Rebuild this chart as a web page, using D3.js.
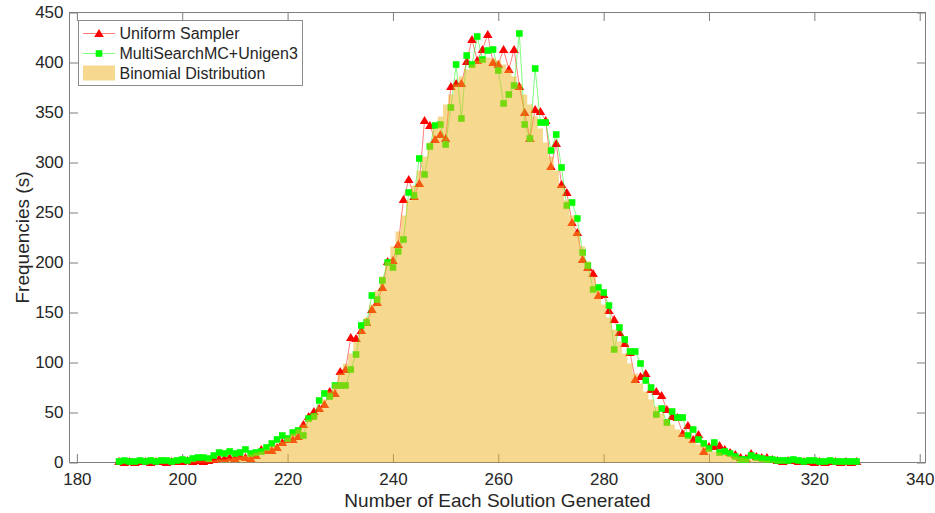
<!DOCTYPE html>
<html>
<head>
<meta charset="utf-8">
<script src="https://cdn.jsdelivr.net/npm/d3@7"></script>
<style>
body { margin: 0; background: #fff; }
text { font-family: "Liberation Sans", Arial, Helvetica, sans-serif; fill: #262626; }
</style>
</head>
<body>
<script>
// number of times each solution was generated (x) and how often that count occurred
var solutions = [188, 189, 190, 191, 192, 193, 194, 195, 196, 197,
                 198, 199, 200, 201, 202, 203, 204, 205, 206, 207,
                 208, 209, 210, 211, 212, 213, 214, 215, 216, 217,
                 218, 219, 220, 221, 222, 223, 224, 225, 226, 227,
                 228, 229, 230, 231, 232, 233, 234, 235, 236, 237,
                 238, 239, 240, 241, 242, 243, 244, 245, 246, 247,
                 248, 249, 250, 251, 252, 253, 254, 255, 256, 257,
                 258, 259, 260, 261, 262, 263, 264, 265, 266, 267,
                 268, 269, 270, 271, 272, 273, 274, 275, 276, 277,
                 278, 279, 280, 281, 282, 283, 284, 285, 286, 287,
                 288, 289, 290, 291, 292, 293, 294, 295, 296, 297,
                 298, 299, 300, 301, 302, 303, 304, 305, 306, 307,
                 308, 309, 310, 311, 312, 313, 314, 315, 316, 317,
                 318, 319, 320, 321, 322, 323, 324, 325, 326, 327,
                 328];

var uniform = [1, 0, 1, 0, 1, 1, 0, 1, 1, 0,
               1, 1, 1, 2, 1, 2, 1, 2, 3, 4,
               4, 5, 4, 6, 5, 4, 7, 13, 12, 12,
               15, 20, 23, 23, 26, 38, 46, 51, 54, 58,
               71, 69, 91, 93, 125, 124, 132, 140, 153, 160,
               175, 201, 202, 218, 263, 283, 266, 279, 342, 337,
               323, 328, 324, 376, 379, 379, 401, 423, 402, 413,
               428, 400, 398, 413, 393, 413, 376, 350, 324, 353,
               351, 342, 296, 319, 278, 270, 240, 230, 203, 195,
               189, 167, 168, 152, 143, 130, 119, 110, 83, 86,
               89, 73, 71, 67, 53, 46, 45, 29, 37, 23,
               28, 11, 16, 16, 17, 13, 10, 8, 5, 4,
               9, 6, 5, 5, 3, 2, 1, 2, 2, 1,
               1, 1, 0, 1, 0, 1, 1, 0, 1, 0,
               1];

var multiSearch = [1, 2, 1, 1, 2, 1, 2, 1, 2, 2,
                   1, 2, 3, 2, 4, 5, 5, 4, 7, 10,
                   9, 11, 9, 10, 13, 9, 10, 11, 15, 19,
                   23, 27, 24, 30, 32, 27, 44, 46, 62, 69,
                   66, 77, 77, 77, 93, 108, 137, 140, 167, 163,
                   182, 200, 195, 211, 223, 270, 267, 304, 288, 316,
                   337, 338, 318, 355, 398, 344, 407, 398, 426, 403,
                   412, 413, 392, 359, 368, 377, 429, 338, 324, 394,
                   340, 340, 312, 328, 295, 257, 260, 244, 210, 197,
                   173, 175, 170, 157, 113, 135, 123, 111, 111, 99,
                   82, 75, 48, 54, 40, 51, 45, 45, 27, 33,
                   23, 19, 14, 20, 10, 11, 9, 6, 3, 3,
                   7, 5, 4, 3, 3, 2, 2, 2, 3, 2,
                   1, 2, 2, 1, 1, 2, 1, 1, 1, 1,
                   1];

var binomial = [0, 0, 0, 0, 0, 0, 0, 0, 0, 0,
                0, 0, 0, 0, 1, 1, 1, 2, 2, 3,
                3, 4, 5, 6, 7, 8, 10, 11, 13, 16,
                18, 21, 25, 29, 33, 38, 43, 49, 56, 63,
                71, 79, 89, 99, 109, 121, 133, 145, 158, 172,
                186, 201, 216, 231, 247, 262, 277, 292, 306, 320,
                334, 346, 358, 368, 378, 386, 393, 398, 402, 404,
                405, 404, 402, 398, 393, 386, 378, 368, 358, 346,
                334, 320, 306, 292, 277, 262, 247, 231, 216, 201,
                186, 172, 158, 145, 133, 121, 109, 99, 89, 79,
                71, 63, 56, 49, 43, 38, 33, 29, 25, 21,
                18, 16, 13, 11, 10, 8, 7, 6, 5, 4,
                3, 3, 2, 2, 1, 1, 1, 0, 0, 0,
                0, 0, 0, 0, 0, 0, 0, 0, 0, 0,
                0];

var xTicks = [180, 200, 220, 240, 260, 280, 300, 320, 340];
var yTicks = [0, 50, 100, 150, 200, 250, 300, 350, 400, 450];
var seriesNames = ["Uniform Sampler", "MultiSearchMC+Unigen3", "Binomial Distribution"];

var width = 935, height = 513;
var axisGray = "#7f7f7f";
var triangle = "M0,-4.6L4.8,3.6L-4.8,3.6Z";

var svg = d3.select("body")
            .append("svg")
            .attr("width", width)
            .attr("height", height);

var x = d3.scaleLinear().domain([178.6, 341.1]).range([69.5, 925.5]);
var y = d3.scaleLinear().domain([0, 450]).range([462.5, 12.5]);

// axes, MATLAB style: box with inward ticks on every side
var axBottom = svg.append("g")
                  .attr("transform", "translate(0," + y(0) + ")")
                  .call(d3.axisBottom(x).tickValues(xTicks).tickSize(-8.5).tickPadding(10));
var axLeft = svg.append("g")
                .attr("transform", "translate(" + x.range()[0] + ",0)")
                .call(d3.axisLeft(y).tickValues(yTicks).tickSize(-8.5).tickPadding(6));
var axTop = svg.append("g")
               .attr("transform", "translate(0," + y(450) + ")")
               .call(d3.axisTop(x).tickValues(xTicks).tickSize(-8.5).tickFormat(""));
var axRight = svg.append("g")
                 .attr("transform", "translate(" + x.range()[1] + ",0)")
                 .call(d3.axisRight(y).tickValues(yTicks).tickSize(-8.5).tickFormat(""));

[axBottom, axLeft, axTop, axRight].forEach(function(g) {
  g.select(".domain").remove();
  g.selectAll(".tick line").attr("stroke", axisGray);
  g.selectAll(".tick text")
   .attr("font-size", 17)
   .attr("font-family", "Liberation Sans, Arial, sans-serif")
   .attr("fill", "#262626");
});

svg.append("rect")
   .attr("x", x.range()[0])
   .attr("y", y(450))
   .attr("width", x.range()[1] - x.range()[0])
   .attr("height", y(0) - y(450))
   .attr("fill", "none")
   .attr("stroke", axisGray)
   .attr("stroke-width", 1);

// axis titles
svg.append("text")
   .attr("x", (x.range()[0] + x.range()[1]) / 2)
   .attr("y", 507)
   .attr("text-anchor", "middle")
   .attr("font-size", 19)
   .text("Number of Each Solution Generated");

svg.append("text")
   .attr("transform", "translate(29," + (y(0) + y(450)) / 2 + ") rotate(-90)")
   .attr("text-anchor", "middle")
   .attr("font-size", 19)
   .text("Frequencies (s)");

// the two samplers: thin translucent line plus markers
var rows = solutions.map(function(k, i) {
  return { k: k, uniform: uniform[i], multi: multiSearch[i], binomial: binomial[i] };
});

var line = function(key) {
  return d3.line().x(function(d) { return x(d.k); }).y(function(d) { return y(d[key]); });
};

svg.append("path")
   .datum(rows)
   .attr("d", line("uniform"))
   .attr("fill", "none")
   .attr("stroke", "#ff0000")
   .attr("stroke-opacity", 0.5)
   .attr("stroke-width", 1);

svg.append("g")
   .selectAll("path")
   .data(rows)
   .join("path")
   .attr("d", triangle)
   .attr("transform", function(d) { return "translate(" + x(d.k) + "," + y(d.uniform) + ")"; })
   .attr("fill", "#ff0000");

svg.append("path")
   .datum(rows)
   .attr("d", line("multi"))
   .attr("fill", "none")
   .attr("stroke", "#00ff00")
   .attr("stroke-opacity", 0.5)
   .attr("stroke-width", 1);

svg.append("g")
   .selectAll("rect")
   .data(rows)
   .join("rect")
   .attr("x", function(d) { return x(d.k) - 3.3; })
   .attr("y", function(d) { return y(d.multi) - 3.3; })
   .attr("width", 6.6)
   .attr("height", 6.6)
   .attr("fill", "#00ff00");

// binomial reference as half transparent bars drawn over everything
svg.append("path")
   .datum(rows)
   .attr("d", d3.area()
                .x(function(d) { return x(d.k); })
                .y0(y(0))
                .y1(function(d) { return y(d.binomial); })
                .curve(d3.curveStep))
   .attr("fill", "#edb120")
   .attr("fill-opacity", 0.5);

// legend
var legend = svg.append("g");

legend.append("rect")
      .attr("x", 78.5)
      .attr("y", 20.5)
      .attr("width", 224)
      .attr("height", 65)
      .attr("fill", "#fff")
      .attr("stroke", "#8c8c8c");

var rowY = [33.5, 53.5, 73.5];

legend.append("line")
      .attr("x1", 83).attr("x2", 115).attr("y1", rowY[0]).attr("y2", rowY[0])
      .attr("stroke", "#ff0000").attr("stroke-opacity", 0.5);
legend.append("path")
      .attr("d", triangle)
      .attr("transform", "translate(99," + rowY[0] + ")")
      .attr("fill", "#ff0000");

legend.append("line")
      .attr("x1", 83).attr("x2", 115).attr("y1", rowY[1]).attr("y2", rowY[1])
      .attr("stroke", "#00ff00").attr("stroke-opacity", 0.5);
legend.append("rect")
      .attr("x", 99 - 3.3).attr("y", rowY[1] - 3.3)
      .attr("width", 6.6).attr("height", 6.6)
      .attr("fill", "#00ff00");

legend.append("rect")
      .attr("x", 83).attr("y", rowY[2] - 8)
      .attr("width", 32).attr("height", 15)
      .attr("fill", "#edb120").attr("fill-opacity", 0.5);

legend.selectAll("text.entry")
      .data(seriesNames)
      .join("text")
      .attr("class", "entry")
      .attr("x", 119.5)
      .attr("y", function(d, i) { return rowY[i] + 5.6; })
      .attr("font-size", 16)
      .text(function(d) { return d; });
</script>
</body>
</html>
